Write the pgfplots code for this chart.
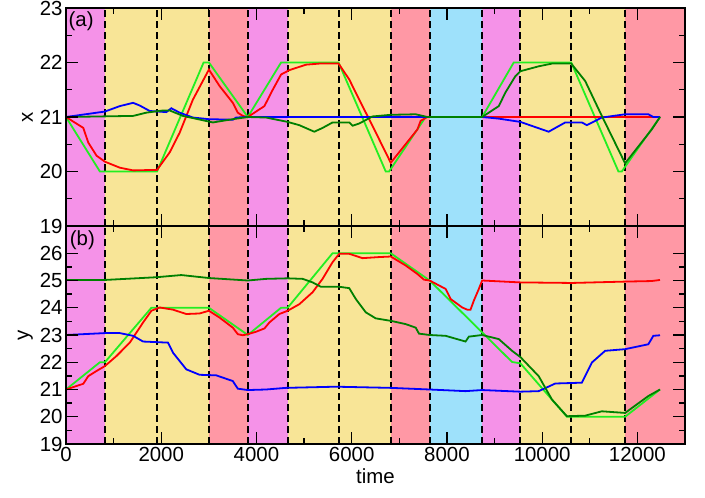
\documentclass[border=0pt]{standalone}
\usepackage{fontspec}
\setmainfont{Liberation Sans}
\usepackage{pgfplots}
\pgfplotsset{compat=1.18}
\definecolor{bmag}{HTML}{F592E8}
\definecolor{byel}{HTML}{F8E597}
\definecolor{bred}{HTML}{FF98A5}
\definecolor{bblu}{HTML}{9EE1FB}
\definecolor{lgreen}{HTML}{22EE22}
\definecolor{dgreen}{HTML}{008000}
\pgfplotsset{
 myax/.style={width=619bp,height=218bp,scale only axis,
  xmin=0,xmax=13000, axis on top,
  axis line style={line width=2bp},
  every tick/.style={line width=1.3bp, black},
  major tick length=12bp, minor tick length=6bp, tick align=inside,
  xtick={0,2000,...,12000}, minor x tick num=1, minor y tick num=1,
  ticklabel style={font=\fontsize{20.5}{24}\selectfont},
  label style={font=\fontsize{20.5}{24}\selectfont},
  /pgf/number format/assume math mode=true,
  /pgf/number format/set thousands separator={},
  scaled x ticks=false,
  every axis plot/.append style={line width=1.8bp, mark=none},
 },
}
\tikzset{dsh/.style={line width=1.9bp, black, dash pattern=on 7bp off 4bp}}
\begin{document}
\begin{tikzpicture}
\path[use as bounding box] (-66bp,-54bp) rectangle (639bp,444bp);
% ---------------- top panel
\begin{axis}[myax, at={(0,218bp)}, ymin=19, ymax=23, ytick={19,20,21,22,23},
  xticklabels={}, ylabel={x}]
\fill[bmag] (axis cs:0,19) rectangle (axis cs:817,23);
\fill[byel] (axis cs:817,19) rectangle (axis cs:3001,23);
\fill[bred] (axis cs:3001,19) rectangle (axis cs:3818,23);
\fill[bmag] (axis cs:3818,19) rectangle (axis cs:4655,23);
\fill[byel] (axis cs:4655,19) rectangle (axis cs:6820,23);
\fill[bred] (axis cs:6820,19) rectangle (axis cs:7637,23);
\fill[bblu] (axis cs:7637,19) rectangle (axis cs:8740,23);
\fill[bmag] (axis cs:8740,19) rectangle (axis cs:9543,23);
\fill[byel] (axis cs:9543,19) rectangle (axis cs:11742,23);
\fill[bred] (axis cs:11742,19) rectangle (axis cs:13000,23);
\pgfplotsinvokeforeach{817,1912,3001,3818,4655,5724,6820,7637,8740,9543,10611,11742}{
 \draw[dsh] (axis cs:#1,19) -- (axis cs:#1,23);}
\addplot[lgreen] coordinates {(0,21) (712,20) (1912,20) (2890,22) (3001,22) (3818,21) (4517,22) (5724,22) (6715,20) (6785,20) (7553,21) (8740,21) (9403,22) (10611,22) (11602,20) (11672,20) (12475,21)};
\addplot[red] coordinates {(0,21) (363,20.8) (468,20.53) (642,20.29) (817,20.18) (1131,20.07) (1410,20.02) (1912,20.03) (2177,20.35) (2386,20.71) (2666,21.32) (3001,21.87) (3224,21.57) (3503,21.26) (3608,21.08) (3712,21.02) (3818,21.0) (4167,21.2) (4342,21.5) (4517,21.78) (4691,21.86) (5040,21.96) (5319,21.98) (5724,21.98) (5948,21.69) (6157,21.32) (6436,20.84) (6820,20.16) (7379,20.77) (7448,20.93) (7588,21.0) (12475,21.0)};
\addplot[blue] coordinates {(0,21) (817,21.1) (1131,21.2) (1410,21.26) (1550,21.21) (1759,21.11) (2107,21.09) (2212,21.16) (2386,21.08) (2666,20.99) (3001,20.96) (3503,20.95) (3573,20.99) (3818,21.0) (8740,21.0) (9089,20.97) (9543,20.91) (10136,20.73) (10485,20.9) (10834,20.9) (10939,20.85) (11253,20.99) (11742,21.05) (12230,21.05) (12335,21.0) (12475,21.0)};
\addplot[dgreen] coordinates {(0,21) (1410,21.02) (1689,21.08) (2038,21.12) (2177,21.12) (2456,21.02) (3085,20.9) (3503,20.96) (3818,21.0) (4202,20.99) (4655,20.91) (4900,20.85) (5214,20.73) (5390,20.8) (5598,20.9) (5948,20.9) (6017,20.84) (6157,20.88) (6436,21.01) (6820,21.04) (7344,21.05) (7588,21.0) (8740,21.0) (9089,21.2) (9229,21.45) (9438,21.75) (9543,21.84) (9927,21.93) (10206,21.98) (10611,21.98) (10904,21.66) (11253,21.02) (11742,20.15) (12300,20.77) (12475,21.0)};
\node[anchor=north west, inner sep=0, font=\fontsize{20.5}{24}\selectfont] at (rel axis cs:0.004,0.985) {(a)};
\end{axis}
% ---------------- bottom panel
\begin{axis}[myax, at={(0,0)}, ymin=19, ymax=27, ytick={19,20,...,26},
  xlabel={time}, ylabel={y}]
\fill[bmag] (axis cs:0,19) rectangle (axis cs:817,27);
\fill[byel] (axis cs:817,19) rectangle (axis cs:3001,27);
\fill[bred] (axis cs:3001,19) rectangle (axis cs:3818,27);
\fill[bmag] (axis cs:3818,19) rectangle (axis cs:4655,27);
\fill[byel] (axis cs:4655,19) rectangle (axis cs:6820,27);
\fill[bred] (axis cs:6820,19) rectangle (axis cs:7637,27);
\fill[bblu] (axis cs:7637,19) rectangle (axis cs:8740,27);
\fill[bmag] (axis cs:8740,19) rectangle (axis cs:9543,27);
\fill[byel] (axis cs:9543,19) rectangle (axis cs:11742,27);
\fill[bred] (axis cs:11742,19) rectangle (axis cs:13000,27);
\pgfplotsinvokeforeach{817,1912,3001,3818,4655,5724,6820,7637,8740,9543,10611,11742}{
 \draw[dsh] (axis cs:#1,19) -- (axis cs:#1,27);}
\addplot[lgreen] coordinates {(0,21) (712,22) (817,22) (1794,24) (3001,24) (3818,23) (4517,24) (4655,24) (5598,26) (6820,26) (7637,25) (9368,22.01) (9543,21.96) (10520,20) (11742,20) (12475,21)};
\addplot[red] coordinates {(0,21) (363,21.21) (468,21.49) (642,21.68) (817,21.86) (1061,22.23) (1340,22.72) (1619,23.46) (1794,23.89) (1968,24.01) (2247,23.93) (2526,23.77) (2805,23.79) (3001,23.89) (3224,23.64) (3503,23.27) (3608,23.03) (3712,22.99) (3818,23.03) (3992,23.12) (4167,23.24) (4272,23.46) (4481,23.77) (4655,23.89) (4900,24.13) (5179,24.57) (5388,25.06) (5598,25.67) (5738,25.98) (5948,25.98) (6227,25.82) (6576,25.86) (6820,25.88) (7134,25.55) (7379,25.24) (7518,25.03) (7637,25.0) (7973,24.69) (8078,24.32) (8321,24.01) (8426,23.93) (8496,23.93) (8565,24.26) (8670,24.69) (8740,25.0) (9543,24.93) (10625,24.91) (11742,24.96) (12300,24.98) (12475,25.02)};
\addplot[blue] coordinates {(0,23.0) (817,23.07) (1131,23.07) (1410,22.97) (1619,22.76) (2142,22.72) (2247,22.35) (2526,21.74) (2805,21.54) (3154,21.52) (3503,21.31) (3608,21.03) (3818,20.98) (4202,21.0) (4620,21.06) (5598,21.1) (5738,21.1) (6820,21.06) (7637,21.0) (8391,20.94) (8740,20.98) (9543,20.92) (9927,20.94) (10276,21.22) (10834,21.25) (11044,21.99) (11323,22.42) (11742,22.48) (12230,22.66) (12335,22.97) (12475,22.99)};
\addplot[dgreen] coordinates {(0,25.02) (817,25.02) (1898,25.12) (2421,25.2) (3008,25.09) (3818,25.0) (4202,25.06) (4655,25.08) (4970,25.06) (5179,24.93) (5354,24.77) (5738,24.77) (5948,24.72) (6087,24.32) (6297,23.83) (6506,23.61) (6820,23.52) (7134,23.4) (7344,23.27) (7414,23.05) (7637,23.0) (7973,22.97) (8391,22.76) (8461,22.94) (8740,23.0) (9089,22.85) (9368,22.42) (9543,22.19) (9927,21.49) (10206,20.63) (10520,20.02) (10904,20.04) (11253,20.2) (11742,20.14) (12230,20.76) (12475,21.0)};
\node[anchor=north west, inner sep=0, font=\fontsize{20.5}{24}\selectfont] at (rel axis cs:0.006,0.98) {(b)};
\end{axis}
\end{tikzpicture}
\end{document}
